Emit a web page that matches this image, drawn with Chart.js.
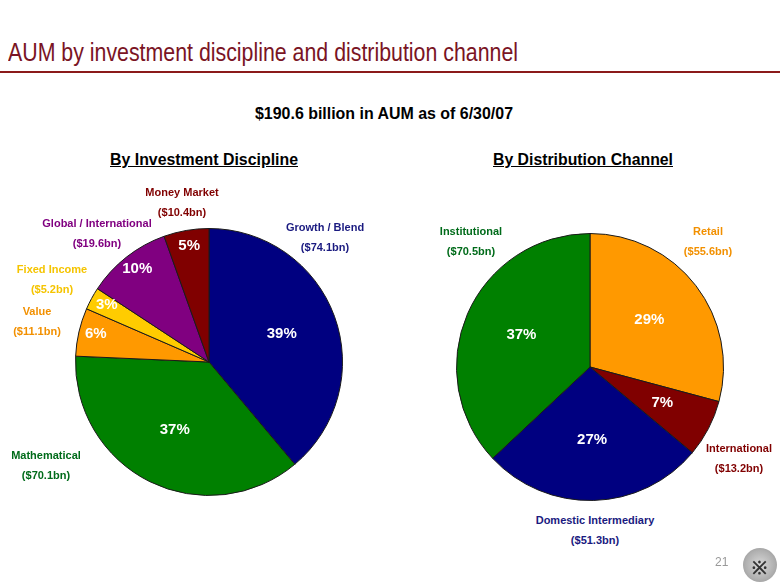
<!DOCTYPE html>
<html>
<head>
<meta charset="utf-8">
<script src="https://cdn.jsdelivr.net/npm/chart.js@4"></script>
<style>
  html, body { margin: 0; padding: 0; background: #fff; }
  #page { position: relative; width: 780px; height: 587px; overflow: hidden; font-family: "Liberation Sans", Arial, sans-serif; }
  .abs { position: absolute; white-space: nowrap; }
  #title { left: 8px; top: 37px; font-size: 26px; color: #7a1424; transform-origin: 0 0; }
  #rule { left: 0; top: 71px; width: 780px; height: 2px; background: #8b1a1a; }
  #subtitle { left: 390px; top: 104px; font-size: 17px; font-weight: bold; color: #000; }
  .head { top: 151px; font-size: 16px; font-weight: bold; color: #000; text-decoration: underline; }
  .lbl { font-size: 11px; font-weight: bold; text-align: center; line-height: 19.5px; transform: translate(-50%, 0); }
  #pageno { left: 715px; top: 555px; font-size: 12px; color: #999; }
  #logo { left: 743px; top: 548px; width: 34px; height: 34px; border-radius: 50%;
          background: radial-gradient(circle at 50% 50%, #d8d8d8 0, #b0b0b0 60%, #8c8c8c 100%); }
  #logo span { position: absolute; left: 9px; top: 7px; font-size: 18px; font-weight: bold; color: #333; }
  canvas { position: absolute; }
</style>
</head>
<body>
<div id="page">
  <div class="abs" id="title">AUM by investment discipline and distribution channel</div>
  <div class="abs" id="rule"></div>
  <div class="abs" id="subtitle">$190.6 billion in AUM as of 6/30/07</div>
  <div class="abs head" id="head1">By Investment Discipline</div>
  <div class="abs head" id="head2">By Distribution Channel</div>
  <canvas id="pie1" width="268" height="268" style="left:75px; top:228px; width:268px; height:268px;"></canvas>
  <canvas id="pie2" width="268" height="268" style="left:456px; top:233px; width:268px; height:268px;"></canvas>
  <div id="labels"></div>
  <div class="abs" id="pageno">21</div>
  <div class="abs" id="logo"><span>※</span></div>
</div>
<script>
// By Investment Discipline ($bn), clockwise from 12 o'clock
const disciplineNames = ["Growth / Blend", "Mathematical", "Value", "Fixed Income", "Global / International", "Money Market"];
const disciplineAum = [74.1, 70.1, 11.1, 5.2, 19.6, 10.4];
const disciplineColors = ["#000080", "#008000", "#ff9900", "#ffcc00", "#800080", "#800000"];
const disciplineTextColors = ["#1a1a80", "#006b1a", "#f29000", "#f5c400", "#800080", "#800000"];

// By Distribution Channel ($bn), clockwise from 12 o'clock
const channelNames = ["Retail", "International", "Domestic Intermediary", "Institutional"];
const channelAum = [55.6, 13.2, 51.3, 70.5];
const channelColors = ["#ff9900", "#800000", "#000080", "#008000"];
const channelTextColors = ["#f29000", "#800000", "#1a1a80", "#006b1a"];

// label centres on the slide (outside the pies)
const disciplineLabelPos = [[325, 218], [46, 446], [37, 302], [52, 260], [97, 214], [182, 183]];
const channelLabelPos = [[708, 222], [739, 439], [595, 511], [471, 222]];

function fitWidth(el, w) {
  const real = el.getBoundingClientRect().width;
  el.style.transformOrigin = "0 0";
  el.style.transform = "scaleX(" + (w / real) + ")";
}
function centerFit(el, cx, w) {
  const real = el.getBoundingClientRect().width;
  el.style.left = (cx - w / 2) + "px";
  el.style.transformOrigin = "0 0";
  el.style.transform = "scaleX(" + (w / real) + ")";
}
fitWidth(document.getElementById("title"), 510);
centerFit(document.getElementById("subtitle"), 384, 258);
centerFit(document.getElementById("head1"), 204, 188);
centerFit(document.getElementById("head2"), 583, 180);

function addLabels(names, values, colors, pos) {
  const box = document.getElementById("labels");
  names.forEach((n, i) => {
    const d = document.createElement("div");
    d.className = "abs lbl";
    d.style.left = pos[i][0] + "px";
    d.style.top = pos[i][1] + "px";
    d.style.color = colors[i];
    d.innerHTML = n + "<br>($" + values[i].toFixed(1) + "bn)";
    box.appendChild(d);
  });
}
addLabels(disciplineNames, disciplineAum, disciplineTextColors, disciplineLabelPos);
addLabels(channelNames, channelAum, channelTextColors, channelLabelPos);

const pctLabels = {
  id: "pctLabels",
  afterDatasetsDraw(chart, args, opts) {
    const ctx = chart.ctx;
    const data = chart.data.datasets[0].data;
    const total = data.reduce((a, b) => a + b, 0);
    ctx.save();
    ctx.font = 'bold 15px "Liberation Sans", Arial, sans-serif';
    ctx.fillStyle = "#fff";
    ctx.textAlign = "center";
    ctx.textBaseline = "middle";
    chart.getDatasetMeta(0).data.forEach((arc, i) => {
      const pct = data[i] / total * 100;
      const f = pct < opts.smallLimit ? opts.small : opts.inner;
      const mid = (arc.startAngle + arc.endAngle) / 2;
      const x = arc.x + Math.cos(mid) * arc.outerRadius * f;
      const y = arc.y + Math.sin(mid) * arc.outerRadius * f - 2;
      ctx.fillText(Math.round(pct) + "%", x, y);
    });
    ctx.restore();
  },
};

function makePie(id, names, values, colors, lbl) {
  new Chart(document.getElementById(id), {
    type: "pie",
    data: {
      labels: names,
      datasets: [{ data: values, backgroundColor: colors, borderColor: "#1a1a1a", borderWidth: 1 }],
    },
    options: {
      responsive: false,
      animation: false,
      layout: { padding: 0 },
      plugins: { legend: { display: false }, tooltip: { enabled: false }, pctLabels: lbl },
    },
    plugins: [pctLabels],
  });
}
makePie("pie1", disciplineNames, disciplineAum, disciplineColors, { inner: 0.58, small: 0.87, smallLimit: 12 });
makePie("pie2", channelNames, channelAum, channelColors, { inner: 0.56, small: 0.61, smallLimit: 12 });
</script>
</body>
</html>
